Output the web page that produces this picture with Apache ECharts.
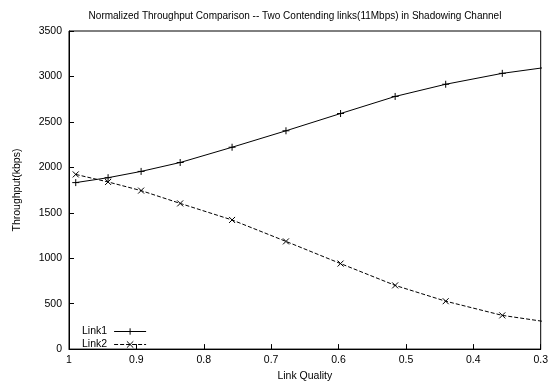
<!DOCTYPE html>
<html>
<head>
<meta charset="utf-8">
<script src="https://cdn.jsdelivr.net/npm/echarts@6/dist/echarts.min.js"></script>
<style>
html,body{margin:0;padding:0;background:#fff;}
#chart{width:551px;height:387px;}
</style>
</head>
<body>
<div id="chart"></div>
<script>
// Link quality (x) values where points were measured
var linkQuality = [0.99, 0.942, 0.893, 0.835, 0.758, 0.678, 0.597, 0.516, 0.441, 0.357, 0.277];
// Throughput values (kbps)
var link1 = [1832, 1886, 1955, 2053, 2221, 2402, 2592, 2780, 2914, 3034, 3115];
var link2 = [1922, 1839, 1744, 1603, 1421, 1185, 941, 701, 527, 371, 284];
var seriesNames = ['Link1', 'Link2'];
var titleText = 'Normalized Throughput Comparison -- Two Contending links(11Mbps) in Shadowing Channel';
var xName = 'Link Quality';
var yName = 'Throughput(kbps)';

function pairs(xs, ys) { return xs.map(function (x, i) { return [x, ys[i]]; }); }

var plusPath = 'path://M0,5L10,5M5,0L5,10';
var crossPath = 'path://M0,0L10,10M10,0L0,10';
var font = 'Liberation Sans, Arial, Helvetica, sans-serif';

var chart = echarts.init(document.getElementById('chart'), null, {renderer: 'canvas'});
chart.setOption({
  animation: false,
  backgroundColor: '#fff',
  title: {
    text: titleText,
    left: 290, top: 6, textAlign: 'center',
    textStyle: {fontFamily: font, fontSize: 10, fontWeight: 'normal', color: '#000'}
  },
  legend: {
    data: seriesNames,
    orient: 'vertical',
    left: 82, top: 326,
    align: 'right',
    itemGap: 2,
    itemWidth: 32, itemHeight: 8,
    lineStyle: {width: 1},
    itemStyle: {color: 'transparent', borderColor: '#000', borderWidth: 1},
    textStyle: {fontFamily: font, fontSize: 10.5, color: '#000', padding: [0, 2, 0, 0]},
    padding: 0
  },
  grid: {
    left: 69, right: 8, top: 31, bottom: 35,
    show: true, borderColor: '#000', borderWidth: 1, backgroundColor: 'transparent'
  },
  xAxis: {
    type: 'value', inverse: true, min: 0.3, max: 1, interval: 0.1,
    name: xName, nameLocation: 'middle', nameGap: 20,
    nameTextStyle: {fontFamily: font, fontSize: 10.5, color: '#000'},
    axisLine: {show: true, lineStyle: {color: '#000', width: 1}},
    axisTick: {show: true, inside: true, length: 5, lineStyle: {color: '#000'}},
    axisLabel: {fontFamily: font, fontSize: 10.5, color: '#000', margin: 6,
      formatter: function (v) { return String(Math.round(v * 10) / 10); }},
    splitLine: {show: false}
  },
  yAxis: {
    type: 'value', min: 0, max: 3500, interval: 500,
    name: yName, nameLocation: 'middle', nameGap: 46, nameRotate: 90,
    nameTextStyle: {fontFamily: font, fontSize: 10.5, color: '#000'},
    axisLine: {show: true, lineStyle: {color: '#000', width: 1}},
    axisTick: {show: true, inside: true, length: 5, lineStyle: {color: '#000'}},
    axisLabel: {fontFamily: font, fontSize: 10.5, color: '#000', margin: 7,
      formatter: function (v) { return String(v); }},
    splitLine: {show: false}
  },
  series: [
    {
      name: seriesNames[0], type: 'line', data: pairs(linkQuality, link1),
      clip: true, symbol: plusPath, symbolSize: 7, showAllSymbol: true,
      lineStyle: {color: '#000', width: 1},
      itemStyle: {color: '#000', borderColor: '#000', borderWidth: 1}
    },
    {
      name: seriesNames[1], type: 'line', data: pairs(linkQuality, link2),
      clip: true, symbol: crossPath, symbolSize: 6, showAllSymbol: true,
      lineStyle: {color: '#000', width: 1, type: [4, 2]},
      itemStyle: {color: '#000', borderColor: '#000', borderWidth: 1}
    }
  ]
});
</script>
</body>
</html>
